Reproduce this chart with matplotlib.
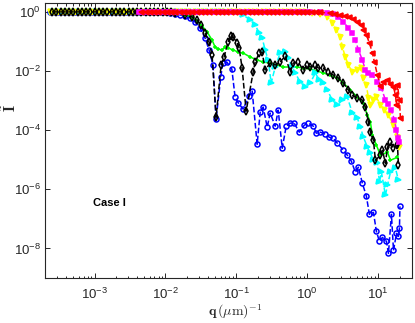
import numpy as np
import matplotlib
matplotlib.use("Agg")
import matplotlib.pyplot as plt
from matplotlib.ticker import LogLocator, FuncFormatter, NullFormatter, NullLocator

plt.rcParams['font.family'] = ['Liberation Sans', 'DejaVu Sans']
plt.rcParams['mathtext.fontset'] = 'custom'
plt.rcParams['mathtext.rm'] = 'Liberation Sans'
plt.rcParams['mathtext.it'] = 'Liberation Sans:italic'
plt.rcParams['mathtext.bf'] = 'Liberation Sans:bold'

# ---- data (log10 q in (um)^-1, log10 of normalised intensity) ----
# plateau sample positions (two interleaved sampling grids), intensity = 1 there
lq_flat_a = [-3.63, -3.57, -3.51, -3.45, -3.39, -3.33, -3.27, -3.21, -3.15, -3.09,
             -3.03, -2.97, -2.91, -2.85, -2.79, -2.73, -2.67, -2.61, -2.55, -2.49,
             -2.43, -2.37, -2.31, -2.25, -2.19, -2.13, -2.07, -2.01, -1.95, -1.89,
             -1.83, -1.77, -1.71, -1.65, -1.59, -1.53, -1.47, -1.41, -1.35, -1.29,
             -1.23, -1.17, -1.11, -1.05, -0.99, -0.93, -0.87, -0.81, -0.75, -0.69,
             -0.63, -0.57, -0.51, -0.45, -0.39, -0.33, -0.27, -0.21, -0.15, -0.09,
             -0.03, 0.03, 0.09, 0.15]
lq_flat_b = [-3.60, -3.54, -3.48, -3.42, -3.36, -3.30, -3.24, -3.18, -3.12, -3.06,
             -3.00, -2.94, -2.88, -2.82, -2.76, -2.70, -2.64, -2.58, -2.52, -2.46,
             -2.40, -2.34, -2.28, -2.22, -2.16, -2.10, -2.04, -1.98, -1.92, -1.86,
             -1.80, -1.74, -1.68, -1.62, -1.56, -1.50, -1.44, -1.38, -1.32, -1.26,
             -1.20, -1.14, -1.08, -1.02, -0.96, -0.90, -0.84, -0.78, -0.72, -0.66,
             -0.60, -0.54, -0.48, -0.42, -0.36, -0.30, -0.24, -0.18, -0.12, -0.06,
             0.00, 0.06, 0.12]

blue_lq = [-1.936, -1.866, -1.795, -1.724, -1.654, -1.583, -1.512, -1.442, -1.385, -1.329,
           -1.286, -1.220, -1.191, -1.135, -1.064, -1.018, -0.971, -0.905, -0.820, -0.777,
           -0.707, -0.664, -0.622, -0.565, -0.523, -0.452, -0.410, -0.353, -0.297, -0.240,
           -0.184, -0.113, -0.042, 0.014, 0.085, 0.127, 0.184, 0.254, 0.311, 0.368,
           0.424, 0.509, 0.565, 0.622, 0.678, 0.721, 0.777, 0.834, 0.876, 0.933,
           0.975, 1.018, 1.060, 1.117, 1.145, 1.187, 1.216, 1.258, 1.286, 1.300, 1.307]
blue_lI = [-0.034, -0.068, -0.102, -0.136, -0.203, -0.339, -0.542, -0.881, -1.288, -1.797,
           -3.627, -2.203, -1.729, -1.695, -1.932, -2.881, -3.085, -3.288, -2.847, -2.678,
           -4.475, -3.390, -3.220, -3.898, -3.424, -3.864, -3.322, -4.610, -3.864, -3.763,
           -3.763, -4.068, -3.831, -3.763, -3.864, -4.102, -4.068, -4.136, -4.237, -4.271,
           -4.441, -4.678, -4.847, -5.051, -5.424, -5.254, -5.797, -6.237, -6.847, -6.780,
           -7.424, -7.763, -7.627, -7.763, -8.169, -6.847, -8.068, -7.492, -7.593, -7.322, -6.576]

black_lq = [-1.866, -1.724, -1.625, -1.555, -1.498, -1.442, -1.385, -1.343, -1.286, -1.215,
            -1.173, -1.117, -1.074, -1.046, -0.989, -0.961, -0.919, -0.862, -0.763, -0.735,
            -0.678, -0.636, -0.594, -0.523, -0.452, -0.382, -0.311, -0.240, -0.198, -0.127,
            -0.057, 0.0, 0.042, 0.113, 0.155, 0.226, 0.297, 0.368, 0.438, 0.509,
            0.580, 0.636, 0.707, 0.777, 0.820, 0.862, 0.890, 0.933, 0.961, 1.032,
            1.060, 1.102, 1.131, 1.173, 1.216, 1.272, 1.286]
black_lI = [-0.034, -0.102, -0.169, -0.271, -0.441, -0.712, -1.017, -1.458, -3.559, -1.797,
            -1.525, -1.017, -0.814, -0.847, -1.051, -1.220, -1.898, -3.356, -2.034, -1.695,
            -1.390, -1.356, -1.966, -1.729, -1.797, -1.695, -1.492, -2.034, -1.729, -1.695,
            -1.966, -1.797, -1.864, -1.797, -1.898, -1.898, -2.034, -2.136, -2.237, -2.407,
            -2.644, -2.814, -2.915, -2.983, -3.220, -3.729, -4.068, -4.339, -5.017, -4.847,
            -4.678, -5.119, -4.576, -4.407, -4.610, -4.508, -5.186]

green_lq = [-1.866, -1.724, -1.625, -1.555, -1.484, -1.413, -1.343, -1.300, -1.258, -1.201,
            -1.159, -1.117, -1.046, -0.975, -0.905, -0.806, -0.707, -0.622, -0.523, -0.424,
            -0.339, -0.240, -0.141, -0.057, 0.042, 0.141, 0.226, 0.325, 0.424, 0.509,
            0.608, 0.707, 0.792, 0.848, 0.890, 0.919, 0.975, 1.032, 1.131, 1.173, 1.272]
green_lI = [-0.034, -0.102, -0.169, -0.305, -0.475, -0.678, -0.949, -1.186, -1.254, -1.288,
            -1.186, -1.220, -1.288, -1.356, -1.390, -1.525, -1.627, -1.695, -1.729, -1.797,
            -1.864, -1.864, -1.864, -1.898, -1.932, -2.000, -2.068, -2.136, -2.237, -2.407,
            -2.644, -2.881, -3.085, -3.492, -3.729, -4.169, -4.508, -4.847, -4.746, -5.017, -4.915]

cyan_lq = [-1.159, -1.046, -0.905, -0.806, -0.735, -0.678, -0.636, -0.594, -0.551, -0.509,
           -0.452, -0.382, -0.311, -0.269, -0.212, -0.170, -0.099, -0.028, 0.042, 0.113,
           0.170, 0.226, 0.283, 0.353, 0.424, 0.495, 0.565, 0.636, 0.707, 0.749,
           0.792, 0.848, 0.890, 0.933, 0.989, 1.018, 1.046, 1.102, 1.131, 1.173, 1.244, 1.286]
cyan_lI = [0.0, 0.0, -0.102, -0.271, -0.441, -0.712, -0.881, -1.288, -1.627, -2.407,
           -1.864, -1.390, -1.356, -1.559, -1.864, -2.068, -2.373, -2.542, -2.407, -2.068,
           -2.305, -2.407, -2.644, -2.983, -3.153, -2.983, -2.881, -3.424, -3.593, -3.898,
           -4.237, -4.576, -4.780, -5.017, -5.119, -5.763, -5.424, -6.203, -5.864, -5.424, -5.288, -5.695]

yellow_lq = [-0.028, 0.071, 0.184, 0.283, 0.353, 0.410, 0.466, 0.495, 0.537, 0.580,
             0.636, 0.707, 0.763, 0.792, 0.834, 0.862, 0.890, 0.933, 0.975, 1.032,
             1.088, 1.145, 1.216, 1.272, 1.300]
yellow_lI = [0.0, -0.034, -0.068, -0.169, -0.373, -0.610, -0.847, -1.186, -1.525, -1.797,
             -2.034, -1.966, -1.898, -2.237, -2.475, -2.915, -3.153, -2.983, -2.881, -3.153,
             -3.322, -3.492, -3.831, -4.237, -4.576]

magenta_lq = [0.042, 0.184, 0.283, 0.368, 0.438, 0.509, 0.580, 0.636, 0.678, 0.721,
              0.777, 0.820, 0.862, 0.919, 0.989, 1.046, 1.102, 1.145, 1.187, 1.230,
              1.258, 1.286, 1.300]
magenta_lI = [0.0, -0.017, -0.034, -0.068, -0.169, -0.339, -0.542, -0.712, -0.949, -1.288,
              -1.627, -1.966, -2.068, -2.136, -2.373, -2.576, -2.983, -3.119, -3.322, -3.661,
              -4.000, -4.271, -4.407]

red_lq = [0.184, 0.325, 0.396, 0.466, 0.537, 0.594, 0.650, 0.707, 0.763, 0.792,
          0.834, 0.876, 0.919, 0.947, 0.989, 1.032, 1.074, 1.131, 1.173, 1.216,
          1.244, 1.258, 1.272, 1.300, 1.314]
red_lI = [-0.017, -0.044, -0.068, -0.102, -0.136, -0.180, -0.247, -0.349, -0.441, -0.610,
          -0.780, -1.051, -1.390, -1.695, -2.136, -2.508, -2.373, -2.305, -2.441, -2.542,
          -2.814, -3.153, -2.475, -2.983, -3.593]

# lowest q of each series' plateau
q_start_blue, q_start_black, q_start_green = -3.63, -3.60, -2.40
q_start_cyan, q_start_yellow = -3.60, -3.63
q_start_magenta, q_start_red = -2.37, -2.34

series = [
    (blue_lq, blue_lI, q_start_blue, lq_flat_a, (0.0, 0.0, 1.0), 'o', 'none', '--', 3.6),
    (green_lq, green_lI, q_start_green, lq_flat_b, (0.0, 1.0, 0.0), '+', None, '-', 3.5),
    (cyan_lq, cyan_lI, q_start_cyan, lq_flat_b, (0.0, 1.0, 1.0), '>', None, '--', 3.6),
    (yellow_lq, yellow_lI, q_start_yellow, lq_flat_a, (1.0, 1.0, 0.0), 'v', None, '--', 3.6),
    (black_lq, black_lI, q_start_black, lq_flat_b, (0.0, 0.0, 0.0), 'd', 'none', '--', 3.6),
    (magenta_lq, magenta_lI, q_start_magenta, lq_flat_a, (1.0, 0.0, 1.0), 's', None, '--', 3.0),
    (red_lq, red_lI, q_start_red, lq_flat_b, (1.0, 0.0, 0.0), '<', None, '--', 3.6),
]

fig = plt.figure(figsize=(4.15, 3.23), dpi=100)
ax = fig.add_axes([0.1084, 0.1393, 0.8844, 0.8514])

for lq, lI, q0, flat, col, mk, mfc, ls, ms in series:
    fl = [v for v in flat if q0 - 0.001 <= v < lq[0] - 0.03]
    xq = 10 ** np.array(fl + list(lq))
    yI = 10 ** np.array([0.0] * len(fl) + list(lI))
    kw = dict(color=col, marker=mk, ls=ls, lw=1.1, ms=ms, mew=1.1)
    if mfc is not None:
        kw['mfc'] = mfc
    ax.plot(xq, yI, **kw)

ax.set_xscale('log')
ax.set_yscale('log')
ax.set_xlim(2e-4, 30)
ax.set_ylim(1e-9, 2)

ax.set_xticks([1e-3, 1e-2, 1e-1, 1e0, 1e1])
ax.set_yticks([1e-8, 1e-6, 1e-4, 1e-2, 1e0])
ax.xaxis.set_minor_locator(LogLocator(base=10, subs=np.arange(2, 10)))
ax.xaxis.set_minor_formatter(NullFormatter())
ax.yaxis.set_minor_locator(NullLocator())
fmt = FuncFormatter(lambda v, p: r'$10^{%d}$' % int(round(np.log10(v))))
ax.xaxis.set_major_formatter(fmt)
ax.yaxis.set_major_formatter(fmt)

tc = '#262626'
ax.tick_params(which='both', direction='in', top=True, right=True, colors=tc,
               labelsize=9.5, width=0.7)
ax.tick_params(which='major', length=3.5)
ax.tick_params(which='minor', length=1.8)
ax.tick_params(axis='x', pad=6)
ax.tick_params(axis='y', pad=3)
for s in ax.spines.values():
    s.set_color(tc)
    s.set_linewidth(0.8)

ax.set_xlabel(r'$\mathbf{q}\,(\mu\mathrm{m})^{-1}$', fontsize=10, math_fontfamily='cm', color=tc)
ax.set_ylabel(r'$\tilde{\mathbf{I}}$', fontsize=11, math_fontfamily='cm', color=tc)
ax.xaxis.set_label_coords(0.518, -0.088)
ax.yaxis.set_label_coords(-0.07, 0.62)

ax.text(0.131, 0.273, 'Case I', transform=ax.transAxes, fontsize=8,
        fontweight='bold', ha='left', va='center', color='black')

fig.savefig('out.png', dpi=100)
